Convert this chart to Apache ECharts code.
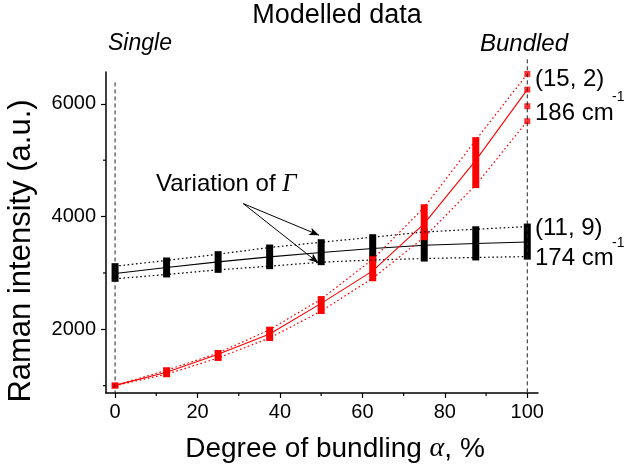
<!DOCTYPE html>
<html>
<head>
<meta charset="utf-8">
<script src="https://cdn.jsdelivr.net/npm/echarts@6/dist/echarts.min.js"></script>
<style>
  html, body { margin: 0; padding: 0; background: #fff; }
  #chart { width: 625px; height: 468px; }
</style>
</head>
<body>
<div id="chart"></div>
<script>
// Degree of bundling (%) at which the model was evaluated
const alpha = [0, 12.5, 25, 37.5, 50, 62.5, 75, 87.5, 100];

// (15, 2) / 186 cm-1 band: central curve and the spread over Gamma
const redMid  = [1005, 1239, 1557, 1917, 2460, 3037, 3876, 4996, 6253];
const redHigh = [1005, 1274, 1580, 1993, 2536, 3242, 4165, 5356, 6531];
const redLow  = [1000, 1203, 1492, 1846, 2324, 2906, 3634, 4560, 5692];
// individual Gamma values at the fully bundled end
const redEnd  = [6531, 6253, 5958, 5692];

// (11, 9) / 174 cm-1 band
const blackMid  = [2991, 3097, 3196, 3285, 3363, 3433, 3492, 3522, 3550];
const blackHigh = [3120, 3221, 3333, 3451, 3545, 3634, 3727, 3775, 3823];
const blackLow  = [2896, 2973, 3055, 3120, 3191, 3230, 3255, 3275, 3290];

// axis ranges and ticks
const X_MIN = -2.2, X_MAX = 102.6;
const Y_MIN = 870, Y_MAX = 6565;
const xMajor = [0, 20, 40, 60, 80, 100];
const xMinor = [10, 30, 50, 70, 90];
const yMajor = [2000, 4000, 6000];
const yMinor = [1000, 3000, 5000];

const FONT = 'Liberation Sans, Arial, sans-serif';
const RED = '#ff0000';
const BLACK = '#000000';

const pair = (xs, ys) => xs.map((x, i) => [x, ys[i]]);
const spread = (lo, hi) => alpha.slice(0, hi.length).map((x, i) => [x, lo[i], hi[i]]);

// vertical bar spanning the Gamma spread at one alpha
function barRenderer(color) {
  return function (params, api) {
    const x = api.value(0), lo = api.value(1), hi = api.value(2);
    const top = api.coord([x, hi]);
    const bot = api.coord([x, lo]);
    return {
      type: 'rect',
      shape: { x: top[0] - 3.5, y: top[1] - 3, width: 7, height: bot[1] - top[1] + 6 },
      style: { fill: color }
    };
  };
}

// short minor tick marks on the outside of an axis
function minorTick(dx, dy) {
  return function (params, api) {
    const p = api.coord([api.value(0), api.value(1)]);
    return {
      type: 'line',
      shape: { x1: p[0], y1: p[1], x2: p[0] + dx, y2: p[1] + dy },
      style: { stroke: BLACK, lineWidth: 1.2 }
    };
  };
}

const chart = echarts.init(document.getElementById('chart'));

const option = {
  animation: false,
  backgroundColor: '#fff',
  grid: { left: 106, right: 87, top: 72, bottom: 75 },
  xAxis: {
    type: 'value', min: X_MIN, max: X_MAX,
    splitLine: { show: false },
    axisLine: { show: true, onZero: false, lineStyle: { color: BLACK, width: 1.5 } },
    axisTick: { customValues: xMajor, length: 5, lineStyle: { color: BLACK, width: 1.2 } },
    axisLabel: { customValues: xMajor, color: BLACK, fontFamily: FONT, fontSize: 20, margin: 9 }
  },
  yAxis: {
    type: 'value', min: Y_MIN, max: Y_MAX,
    splitLine: { show: false },
    axisLine: { show: true, onZero: false, lineStyle: { color: BLACK, width: 1.5 } },
    axisTick: { customValues: yMajor, length: 5, lineStyle: { color: BLACK, width: 1.2 } },
    axisLabel: { customValues: yMajor, color: BLACK, fontFamily: FONT, fontSize: 20, margin: 10, formatter: v => String(v) }
  },
  series: [
    // minor ticks
    { type: 'custom', clip: false, silent: true, data: xMinor.map(v => [v, Y_MIN]), renderItem: minorTick(0, 3) },
    { type: 'custom', clip: false, silent: true, data: yMinor.map(v => [X_MIN, v]), renderItem: minorTick(-3, 0) },
    // guide lines at the single and bundled limits
    { type: 'line', clip: false, silent: true, symbol: 'none', data: [[0, 6380], [0, Y_MIN]], lineStyle: { color: '#222', width: 1, type: [4, 3] } },
    { type: 'line', clip: false, silent: true, symbol: 'none', data: [[100, 6790], [100, Y_MIN]], lineStyle: { color: '#222', width: 1, type: [4, 3] } },
    // black band
    { type: 'line', data: pair(alpha, blackHigh), symbol: 'none', lineStyle: { color: BLACK, width: 1.2, type: [1.6, 2.6] } },
    { type: 'line', data: pair(alpha, blackLow), symbol: 'none', lineStyle: { color: BLACK, width: 1.2, type: [1.6, 2.6] } },
    { type: 'line', data: pair(alpha, blackMid), symbol: 'none', lineStyle: { color: BLACK, width: 1.1 } },
    { type: 'custom', data: spread(blackLow, blackHigh), renderItem: barRenderer(BLACK), encode: { x: 0, y: [1, 2] } },
    // red band
    { type: 'line', data: pair(alpha, redHigh), symbol: 'none', lineStyle: { color: RED, width: 1.2, type: [1.6, 2.6] } },
    { type: 'line', data: pair(alpha, redLow), symbol: 'none', lineStyle: { color: RED, width: 1.2, type: [1.6, 2.6] } },
    { type: 'line', data: pair(alpha, redMid), symbol: 'none', lineStyle: { color: RED, width: 1.1 } },
    { type: 'custom', data: spread(redLow.slice(0, 8), redHigh.slice(0, 8)), renderItem: barRenderer(RED), encode: { x: 0, y: [1, 2] } },
    {
      type: 'scatter', data: redEnd.map(v => [100, v]), symbol: 'rect', symbolSize: 6,
      itemStyle: { color: RED }
    },
    // "Variation of Gamma" pointers
    {
      type: 'line', data: [], silent: true, clip: false,
      markLine: {
        silent: true, symbol: ['none', 'arrow'], symbolSize: [6, 10], label: { show: false },
        lineStyle: { color: BLACK, width: 1, type: 'solid' },
        data: [
          [{ coord: [31.1, 4230] }, { coord: [49.5, 3669] }],
          [{ coord: [31.1, 4230] }, { coord: [49.3, 3179] }]
        ]
      }
    }
  ],
  graphic: [
    { type: 'text', x: 337, y: 16, style: { text: 'Modelled data', font: '27px ' + FONT, fill: BLACK, align: 'center', verticalAlign: 'middle' } },
    { type: 'text', x: 108, y: 44, style: { text: 'Single', font: 'italic 23px ' + FONT, fill: BLACK, align: 'left', verticalAlign: 'middle' } },
    { type: 'text', x: 568, y: 44, style: { text: 'Bundled', font: 'italic 24px ' + FONT, fill: BLACK, align: 'right', verticalAlign: 'middle' } },
    {
      type: 'text', x: 156, y: 184,
      style: {
        text: 'Variation of {g|Γ}', font: '24px ' + FONT, fill: BLACK, align: 'left', verticalAlign: 'middle',
        rich: { g: { fontFamily: 'Liberation Serif', fontStyle: 'italic', fontSize: 25 } }
      }
    },
    { type: 'text', x: 535, y: 79, style: { text: '(15, 2)', font: '24px ' + FONT, fill: BLACK, align: 'left', verticalAlign: 'middle' } },
    { type: 'text', x: 535, y: 113, style: { text: '186 cm', font: '24px ' + FONT, fill: BLACK, align: 'left', verticalAlign: 'middle' } },
    { type: 'text', x: 612, y: 97, style: { text: '-1', font: '14px ' + FONT, fill: BLACK, align: 'left', verticalAlign: 'middle' } },
    { type: 'text', x: 535, y: 228, style: { text: '(11, 9)', font: '24px ' + FONT, fill: BLACK, align: 'left', verticalAlign: 'middle' } },
    { type: 'text', x: 535, y: 258, style: { text: '174 cm', font: '24px ' + FONT, fill: BLACK, align: 'left', verticalAlign: 'middle' } },
    { type: 'text', x: 612, y: 243, style: { text: '-1', font: '14px ' + FONT, fill: BLACK, align: 'left', verticalAlign: 'middle' } },
    {
      type: 'text', x: 335, y: 449,
      style: {
        text: 'Degree of bundling {a|α}, %', font: '28px ' + FONT, fill: BLACK, align: 'center', verticalAlign: 'middle',
        rich: { a: { fontFamily: 'Liberation Serif', fontStyle: 'italic', fontSize: 28 } }
      }
    },
    {
      type: 'text', x: 21, y: 251, rotation: Math.PI / 2,
      style: { text: 'Raman intensity (a.u.)', font: '31px ' + FONT, fill: BLACK, align: 'center', verticalAlign: 'middle' }
    }
  ]
};

chart.setOption(option);
</script>
</body>
</html>
